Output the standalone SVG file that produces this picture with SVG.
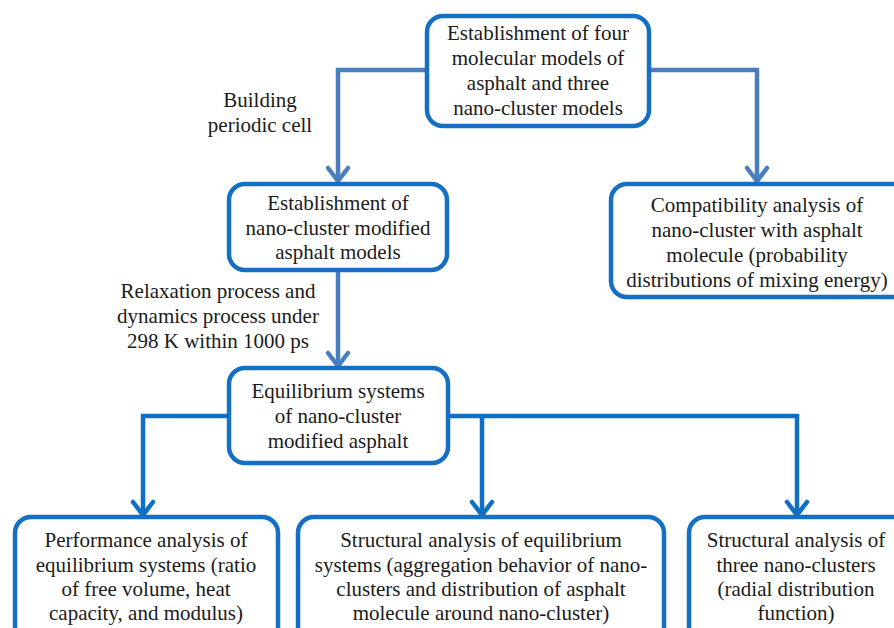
<svg xmlns="http://www.w3.org/2000/svg" width="894" height="628" viewBox="0 0 894 628">
<defs>
<style>
.box{fill:#fff;stroke:#1570c4;stroke-width:4.5}
.t{font-family:"Liberation Serif","Times New Roman",serif;font-size:21px;fill:#1a1a1a;text-anchor:middle}
.c1{fill:none;stroke:#4a7ebf;stroke-width:4.5}
.c2{fill:none;stroke:#0f6fc6;stroke-width:4.5}
</style>
<marker id="a1" markerUnits="userSpaceOnUse" markerWidth="30" markerHeight="30" refX="26" refY="15" orient="auto" viewBox="0 0 30 30">
<path d="M13 5 L26 15 L13 25" fill="none" stroke="#4a7ebf" stroke-width="4.5" stroke-linecap="round" stroke-linejoin="miter"/>
</marker>
<marker id="a2" markerUnits="userSpaceOnUse" markerWidth="30" markerHeight="30" refX="26" refY="15" orient="auto" viewBox="0 0 30 30">
<path d="M13 5 L26 15 L13 25" fill="none" stroke="#0f6fc6" stroke-width="4.5" stroke-linecap="round" stroke-linejoin="miter"/>
</marker>
</defs>
<rect width="894" height="628" fill="#fff"/>
<g id="connectors">
<path class="c1" d="M427 70 H338 V181" marker-end="url(#a1)"/>
<path class="c1" d="M649 70 H757 V181" marker-end="url(#a1)"/>
<path class="c1" d="M338 270 V366" marker-end="url(#a1)"/>
<path class="c2" d="M229 416 H143 V515" marker-end="url(#a2)"/>
<path class="c2" d="M448 416 H797 V515" marker-end="url(#a2)"/>
<path class="c2" d="M482 416 V515" marker-end="url(#a2)"/>
</g>
<g id="label-building">
<text class="t" x="260" y="107">Building</text>
<text class="t" x="260" y="132">periodic cell</text>
</g>
<g id="label-relaxation">
<text class="t" x="218" y="298">Relaxation process and</text>
<text class="t" x="218" y="323">dynamics process under</text>
<text class="t" x="218" y="348">298 K within 1000 ps</text>
</g>
<g id="node-top">
<rect class="box" x="427" y="16" width="222" height="110" rx="16"/>
<text class="t" x="538" y="40">Establishment of four</text>
<text class="t" x="538" y="65">molecular models of</text>
<text class="t" x="538" y="90">asphalt and three</text>
<text class="t" x="538" y="115">nano-cluster models</text>
</g>
<g id="node-establish">
<rect class="box" x="229" y="184" width="218" height="86" rx="16"/>
<text class="t" x="338" y="210">Establishment of</text>
<text class="t" x="338" y="235">nano-cluster modified</text>
<text class="t" x="338" y="259">asphalt models</text>
</g>
<g id="node-compat">
<rect class="box" x="611" y="184" width="300" height="113" rx="16"/>
<text class="t" x="757" y="212">Compatibility analysis of</text>
<text class="t" x="757" y="237">nano-cluster with asphalt</text>
<text class="t" x="757" y="262">molecule (probability</text>
<text class="t" x="757" y="287">distributions of mixing energy)</text>
</g>
<g id="node-equilibrium">
<rect class="box" x="229" y="368" width="219" height="95" rx="16"/>
<text class="t" x="338" y="398">Equilibrium systems</text>
<text class="t" x="338" y="423">of nano-cluster</text>
<text class="t" x="338" y="448">modified asphalt</text>
</g>
<g id="node-performance">
<rect class="box" x="15" y="517" width="263" height="130" rx="16"/>
<text class="t" x="146" y="547">Performance analysis of</text>
<text class="t" x="146" y="572">equilibrium systems (ratio</text>
<text class="t" x="146" y="596">of free volume, heat</text>
<text class="t" x="146" y="620">capacity, and modulus)</text>
</g>
<g id="node-structural-eq">
<rect class="box" x="298" y="517" width="366" height="130" rx="16"/>
<text class="t" x="481" y="547">Structural analysis of equilibrium</text>
<text class="t" x="481" y="572">systems (aggregation behavior of nano-</text>
<text class="t" x="481" y="596">clusters and distribution of asphalt</text>
<text class="t" x="481" y="620">molecule around nano-cluster)</text>
</g>
<g id="node-structural-three">
<rect class="box" x="689" y="517" width="230" height="130" rx="16"/>
<text class="t" x="796" y="547">Structural analysis of</text>
<text class="t" x="796" y="572">three nano-clusters</text>
<text class="t" x="796" y="596">(radial distribution</text>
<text class="t" x="796" y="620">function)</text>
</g>
</svg>
